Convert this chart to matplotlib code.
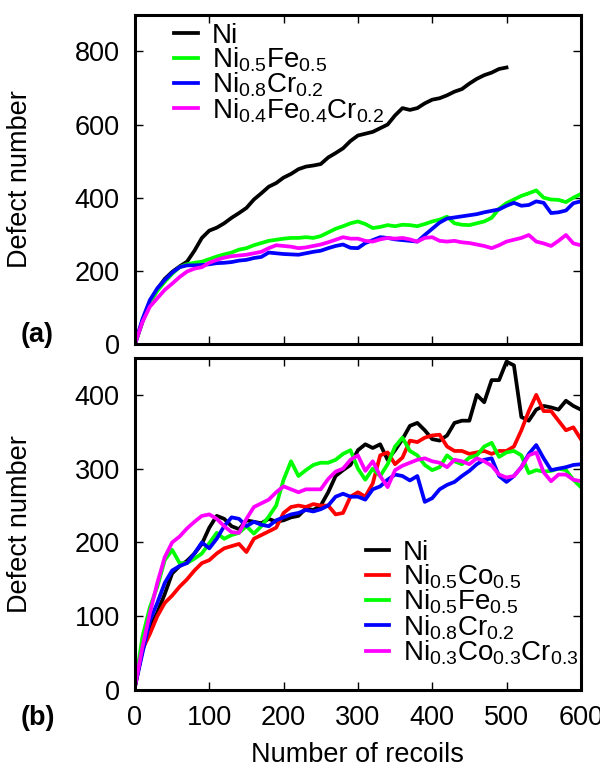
import numpy as np
import matplotlib
matplotlib.use("Agg")
import matplotlib.pyplot as plt

plt.rcParams['font.family'] = ['Liberation Sans', 'DejaVu Sans']
plt.rcParams['mathtext.fontset'] = 'custom'
plt.rcParams['mathtext.rm'] = 'Liberation Sans'
plt.rcParams['mathtext.it'] = 'Liberation Sans'

recoils = np.arange(0, 610, 10)
recoils_ni_a = np.arange(0, 510, 10)

# Panel (a)
a_ni = [0, 60, 112, 150, 178, 197, 212, 225, 255, 290, 310, 318, 330, 345, 358, 372, 395, 412, 430, 440,
        455, 465, 478, 485, 488, 492, 510, 522, 535, 555, 570, 575, 580, 590, 600, 625, 645, 640, 645, 658,
        668, 672, 680, 690, 697, 712, 725, 735, 742, 752, 756]
a_nife = [0, 62, 112, 145, 170, 192, 210, 218, 222, 225, 232, 239, 245, 250, 258, 262, 270, 276, 282, 285,
          288, 290, 290, 292, 290, 295, 305, 315, 322, 330, 335, 328, 317, 320, 325, 322, 326, 325, 322, 328,
          335, 340, 348, 330, 326, 325, 330, 335, 345, 370, 385, 395, 405, 412, 420, 400, 395, 394, 388, 400, 410]
a_nicr = [0, 68, 120, 152, 175, 195, 210, 215, 215, 216, 218, 221, 222, 224, 228, 230, 235, 238, 250, 248,
          246, 245, 244, 248, 252, 255, 262, 268, 272, 263, 262, 276, 284, 292, 290, 286, 284, 282, 280, 298,
          315, 332, 343, 346, 349, 352, 355, 360, 364, 368, 378, 386, 378, 380, 390, 386, 358, 360, 365, 385, 390]
a_nifecr = [0, 60, 102, 125, 148, 165, 183, 198, 206, 210, 222, 230, 236, 240, 242, 244, 248, 252, 262, 270,
            268, 266, 262, 264, 268, 272, 278, 285, 292, 288, 288, 282, 280, 286, 290, 288, 290, 286, 280, 290,
            292, 282, 280, 282, 278, 276, 272, 268, 262, 270, 280, 285, 290, 298, 280, 275, 268, 282, 298, 275, 270]

# Panel (b)
b_ni = [5, 55, 85, 105, 130, 158, 168, 175, 185, 198, 220, 236, 232, 222, 218, 230, 228, 226, 232, 228,
        230, 234, 236, 246, 244, 250, 268, 290, 298, 305, 325, 333, 328, 333, 312, 325, 340, 358, 362, 352,
        340, 338, 345, 362, 365, 365, 400, 390, 420, 420, 445, 440, 370, 365, 380, 385, 383, 380, 392, 385, 380]
b_nico = [5, 55, 76, 100, 118, 128, 140, 150, 162, 172, 176, 185, 192, 195, 198, 187, 205, 210, 215, 220,
          240, 248, 250, 248, 252, 250, 250, 238, 240, 262, 268, 262, 280, 318, 322, 306, 315, 338, 336, 342,
          345, 346, 330, 324, 324, 320, 322, 324, 320, 324, 324, 330, 352, 378, 400, 378, 378, 365, 352, 356, 340]
b_nife = [5, 72, 112, 140, 176, 190, 172, 172, 178, 185, 199, 213, 205, 210, 213, 222, 212, 222, 235, 250,
          285, 310, 290, 298, 305, 308, 308, 312, 320, 325, 300, 285, 300, 290, 306, 330, 342, 324, 318, 305,
          298, 302, 318, 310, 306, 315, 318, 330, 335, 316, 322, 324, 318, 294, 298, 296, 297, 300, 298, 285, 275]
b_nicr = [5, 50, 94, 118, 145, 162, 168, 172, 185, 200, 192, 205, 222, 234, 232, 222, 228, 224, 222, 230,
          234, 238, 240, 244, 242, 245, 250, 262, 266, 262, 262, 258, 272, 276, 285, 292, 290, 284, 290, 255,
          260, 272, 278, 282, 290, 297, 306, 312, 314, 290, 282, 290, 302, 320, 332, 314, 298, 300, 302, 305, 306]
b_nicocr = [5, 58, 104, 145, 180, 200, 208, 219, 228, 236, 238, 232, 222, 214, 213, 232, 248, 253, 258, 268,
            276, 272, 268, 272, 272, 272, 286, 296, 300, 312, 318, 297, 310, 290, 275, 298, 304, 308, 312, 314,
            310, 308, 302, 312, 310, 306, 314, 310, 304, 292, 288, 290, 302, 318, 322, 295, 283, 292, 292, 285, 283]

labels_a = ['Ni', r'Ni$_{0.5}$Fe$_{0.5}$', r'Ni$_{0.8}$Cr$_{0.2}$', r'Ni$_{0.4}$Fe$_{0.4}$Cr$_{0.2}$']
labels_b = ['Ni', r'Ni$_{0.5}$Co$_{0.5}$', r'Ni$_{0.5}$Fe$_{0.5}$', r'Ni$_{0.8}$Cr$_{0.2}$',
            r'Ni$_{0.3}$Co$_{0.3}$Cr$_{0.3}$']
xticks = [0, 100, 200, 300, 400, 500, 600]
yticks_a = [0, 200, 400, 600, 800]
yticks_b = [0, 100, 200, 300, 400]

BLACK, RED, GREEN, BLUE, MAG = '#000000', '#ff0000', '#00ff00', '#0000ff', '#ff00ff'
LW = 2.7
FS = 19.5
LFS = 20

fig = plt.figure(figsize=(6.0, 7.69), dpi=100)
ax1 = fig.add_axes([0.225, 0.5527, 0.743, 0.428])
ax2 = fig.add_axes([0.225, 0.1027, 0.743, 0.4318])

ax1.plot(recoils_ni_a, a_ni, color=BLACK, lw=LW, label=labels_a[0])
ax1.plot(recoils, a_nife, color=GREEN, lw=LW, label=labels_a[1])
ax1.plot(recoils, a_nicr, color=BLUE, lw=LW, label=labels_a[2])
ax1.plot(recoils, a_nifecr, color=MAG, lw=LW, label=labels_a[3])

ax2.plot(recoils, b_ni, color=BLACK, lw=LW, label=labels_b[0])
ax2.plot(recoils, b_nico, color=RED, lw=LW, label=labels_b[1])
ax2.plot(recoils, b_nife, color=GREEN, lw=LW, label=labels_b[2])
ax2.plot(recoils, b_nicr, color=BLUE, lw=LW, label=labels_b[3])
ax2.plot(recoils, b_nicocr, color=MAG, lw=LW, label=labels_b[4])

for ax in (ax1, ax2):
    ax.set_xlim(0, 600)
    ax.set_xticks(xticks)
    ax.tick_params(direction='in', top=True, right=True, length=6, width=1.0,
                   labelsize=FS, pad=11)
    for s in ax.spines.values():
        s.set_linewidth(2.2)
    ax.set_ylabel('Defect number', fontsize=FS)
    ax.yaxis.set_label_coords(-0.228, 0.5)

ax1.set_ylim(0, 900)
ax1.set_yticks(yticks_a)
ax1.tick_params(labelbottom=False)
ax2.set_ylim(0, 450)
ax2.set_yticks(yticks_b)
ax2.set_xlabel('Number of recoils', fontsize=FS, labelpad=8)

leg_kw = dict(frameon=False, fontsize=LFS, handlelength=0.85, handletextpad=0.5,
              labelspacing=-0.12, borderaxespad=0.0, borderpad=0.0)
ax1.legend(loc='upper left', bbox_to_anchor=(0.088, 0.975), **leg_kw)
ax2.legend(loc='lower right', bbox_to_anchor=(0.995, 0.07), **leg_kw)

fig.text(0.035, 0.564, '(a)', fontsize=FS, fontweight='bold', ha='left', va='center')
fig.text(0.035, 0.066, '(b)', fontsize=FS, fontweight='bold', ha='left', va='center')

fig.savefig('out.png', dpi=100)
